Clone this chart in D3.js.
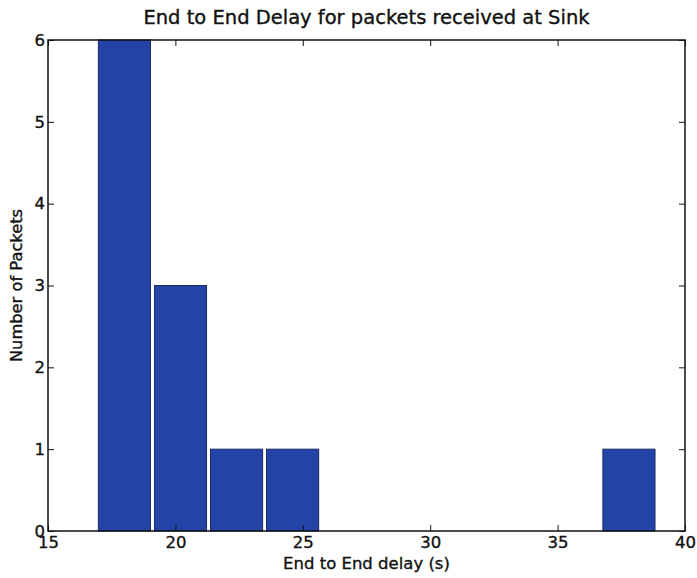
<!DOCTYPE html>
<html><head><meta charset="utf-8">
<script src="https://cdn.jsdelivr.net/npm/d3@7/dist/d3.min.js"></script>
<style>body{margin:0;background:#fff}svg{display:block}text{font-family:"DejaVu Sans",sans-serif;fill:#111;stroke:#111;stroke-width:0.35px}</style>
</head><body><svg id="c" width="697" height="578"></svg>
<script>
const title = "End to End Delay for packets received at Sink";
const xLabel = "End to End delay (s)";
const yLabel = "Number of Packets";
const binStart = 16.9;
const binWidth = 2.2;
const counts = [6, 3, 1, 1, 0, 0, 0, 0, 0, 1];
const xTicks = [15, 20, 25, 30, 35, 40];
const yTicks = [0, 1, 2, 3, 4, 5, 6];

const m = {l: 48, r: 12, t: 40, b: 47};
const W = 697, H = 578;
const svg = d3.select("#c");
const x = d3.scaleLinear().domain([15, 40]).range([m.l, W - m.r]);
const y = d3.scaleLinear().domain([0, 6]).range([H - m.b, m.t]);

const bins = counts.map((c, i) => ({x0: binStart + i * binWidth, x1: binStart + (i + 1) * binWidth, c}));
const rw = 0.93;
svg.append("g").selectAll("rect").data(bins.filter(d => d.c > 0)).join("rect")
  .attr("x", d => x(d.x0 + (1 - rw) / 2 * binWidth))
  .attr("width", d => x(d.x0 + rw * binWidth) - x(d.x0))
  .attr("y", d => y(d.c)).attr("height", d => y(0) - y(d.c))
  .attr("fill", "#2443a6").attr("stroke", "#1b2c63").attr("stroke-width", 1);

// frame
svg.append("rect").attr("x", x(15)).attr("y", y(6)).attr("width", x(40) - x(15)).attr("height", y(0) - y(6))
  .attr("fill", "none").attr("stroke", "#111").attr("stroke-width", 1.5);

const fs = "16.5px";
const bx = svg.append("g").attr("transform", `translate(0,${y(0)})`)
  .call(d3.axisBottom(x).tickValues(xTicks).tickSize(-6).tickPadding(5).tickFormat(d3.format("d")));
const tx = svg.append("g").attr("transform", `translate(0,${y(6)})`)
  .call(d3.axisTop(x).tickValues(xTicks).tickSize(-6).tickFormat(""));
const ly = svg.append("g").attr("transform", `translate(${x(15)},0)`)
  .call(d3.axisLeft(y).tickValues(yTicks).tickSize(-6).tickPadding(3).tickFormat(d3.format("d")));
const ry = svg.append("g").attr("transform", `translate(${x(40)},0)`)
  .call(d3.axisRight(y).tickValues(yTicks).tickSize(-6).tickFormat(""));
[bx, tx, ly, ry].forEach(g => { g.select(".domain").remove(); g.selectAll("line").attr("stroke", "#111"); g.selectAll("text").style("font-size", fs).attr("fill", "#111"); });

svg.append("text").attr("x", (x(15) + x(40)) / 2).attr("y", 24).attr("text-anchor", "middle")
  .style("font-size", "19.5px").text(title);
svg.append("text").attr("x", (x(15) + x(40)) / 2).attr("y", 569).attr("text-anchor", "middle")
  .style("font-size", "16.5px").text(xLabel);
svg.append("text").attr("transform", `translate(22,${(y(0) + y(6)) / 2}) rotate(-90)`).attr("text-anchor", "middle")
  .style("font-size", "16.3px").text(yLabel);
</script></body></html>
